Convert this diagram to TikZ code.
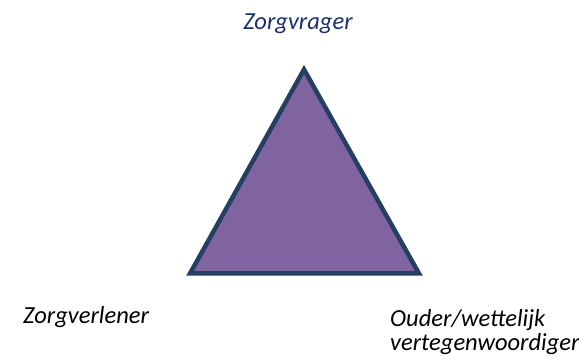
\documentclass[tikz,border=0pt]{standalone}
\usepackage{fontspec}
\setmainfont{Carlito}
\definecolor{paars}{HTML}{8064A2}
\definecolor{rand}{HTML}{243F60}
\definecolor{donkerblauw}{HTML}{1B2F6B}
\tikzset{rol/.style={font=\itshape\fontsize{24.5}{24}\selectfont, inner sep=0pt}}
\begin{document}
\begin{tikzpicture}[x=1pt,y=1pt]
\useasboundingbox (0,0) rectangle (579,359);
\coordinate (top) at (304,289.5);
\coordinate (links) at (190,85.5);
\coordinate (rechts) at (419,85.5);

\path[draw=rand,fill=paars,line width=4.5pt] (top) -- (links) -- (rechts) -- cycle;

\node[rol,text=donkerblauw] (vrager) at (298,335) {Zorgvrager};
\node[rol,anchor=base west] (verlener) at (23,35) {Zorgverlener};
\node[rol,anchor=base west,align=left] (ouder) at (390,8) {Ouder/wettelijk\\vertegenwoordiger};
\end{tikzpicture}
\end{document}
